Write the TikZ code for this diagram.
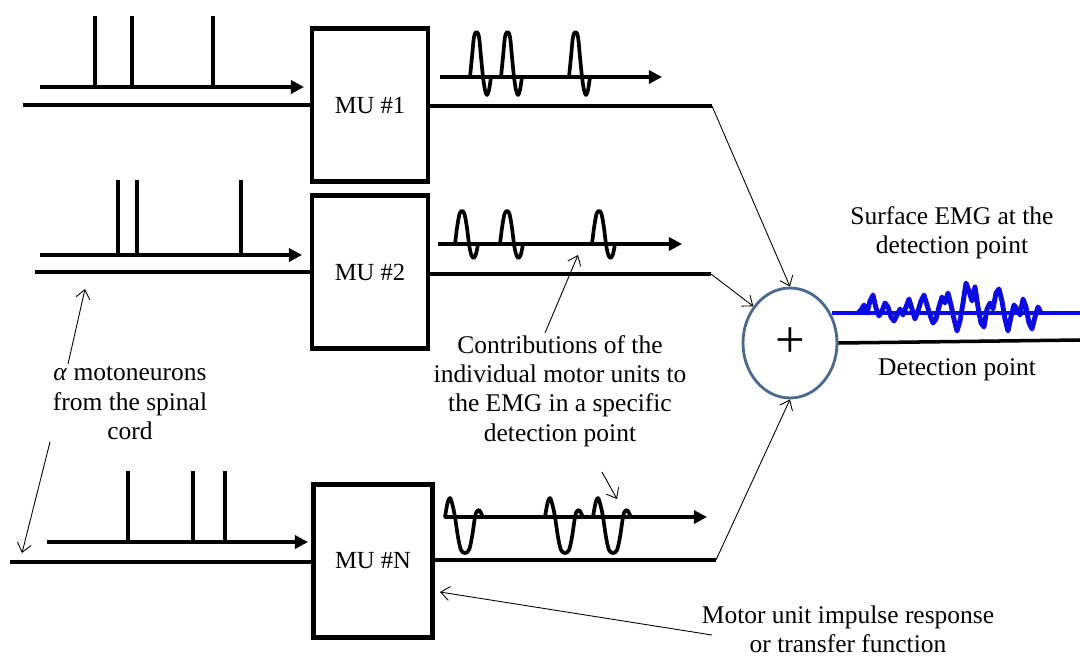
\documentclass[tikz,border=0pt]{standalone}
\usepackage{fontspec}
\setmainfont{Liberation Serif}
\usetikzlibrary{arrows.meta,shapes.geometric}
\definecolor{ringblue}{HTML}{4A6A8C}
\definecolor{emgblue}{RGB}{10,10,225}
\begin{document}
\begin{tikzpicture}[x=0.02cm,y=-0.02cm,
  thickline/.style={line width=2.3pt},
  spike/.style={line width=1.8pt},
  axisarrow/.style={line width=1.8pt,-{Triangle[length=7.5pt,width=7.5pt]}},
  wave/.style={line width=2.1pt,line join=round,line cap=round},
  thinarrow/.style={line width=0.5pt,-{Straight Barb[length=5pt,width=8pt]}},
  mubox/.style={draw,line width=2.3pt,minimum width=2.32cm,minimum height=3.06cm,inner sep=0pt,
     font=\fontsize{14}{16}\selectfont},
  lbl/.style={align=center,font=\fontsize{14.5}{16.6}\selectfont,inner sep=0pt}
]
\useasboundingbox (0,0) rectangle (1080,656);

% boxes
\node[mubox] (mu1) at (370,105) {MU \#1};
\node[mubox] (mu2) at (370,272) {MU \#2};
\node[mubox,minimum width=2.38cm] (muN) at (373,561) {MU \#N};

% summing junction
\node[draw=ringblue,line width=1.6pt,ellipse,minimum width=1.88cm,minimum height=2.2cm,inner sep=0pt,
      font=\fontsize{30}{30}\selectfont] (sum) at (790,343) {+};

% input lines
\coordinate (in1) at (23,105);
\coordinate (in2) at (35,272);
\coordinate (inN) at (10,562);
\draw[thickline] (in1) -- (mu1.west);
\draw[thickline] (in2) -- (mu2.west);
\draw[thickline] (inN) -- (muN.west |- inN);

% output lines
\coordinate (out1) at (712,106);
\coordinate (out2) at (711,274);
\coordinate (outN) at (716,560);
\draw[thickline] (mu1.east |- out1) -- (out1);
\draw[thickline] (mu2.east |- out2) -- (out2);
\draw[thickline] (muN.east |- outN) -- (outN);
\draw[thinarrow] (out1) -- (sum.north);
\draw[thinarrow] (out2) -- (sum.135);
\draw[thinarrow] (outN) -- (sum.south);

% spike trains
\coordinate (s1a) at (40,87);  \coordinate (s1b) at (304,87);
\coordinate (s2a) at (40,255); \coordinate (s2b) at (302,255);
\coordinate (sNa) at (47,542); \coordinate (sNb) at (308,542);
\draw[axisarrow] (s1a) -- (s1b);
\draw[axisarrow] (s2a) -- (s2b);
\draw[axisarrow] (sNa) -- (sNb);
\foreach \x in {95,132,213} \draw[spike] (\x,87) -- (\x,16);
\foreach \x in {118,137,241} \draw[spike] (\x,255) -- (\x,180);
\foreach \x in {128,193,225} \draw[spike] (\x,542) -- (\x,471);

% MU output waveforms
\coordinate (w1a) at (440,77);  \coordinate (w1b) at (662,77);
\coordinate (w2a) at (438,244); \coordinate (w2b) at (682,244);
\coordinate (wNa) at (445,517); \coordinate (wNb) at (707,517);
\draw[axisarrow] (w1a) -- (w1b);
\draw[axisarrow] (w2a) -- (w2b);
\draw[axisarrow] (wNa) -- (wNb);
\foreach \x in {470,501,569}
  \draw[wave] plot[smooth,tension=0.55] coordinates {(\x,77) (\x+2,57) (\x+4,37) (\x+6.5,32) (\x+9,37) (\x+11,57) (\x+13,77) (\x+15,90) (\x+17,95) (\x+19,90) (\x+21,77)};
\foreach \x in {455,500,592}
  \draw[wave] plot[smooth,tension=0.55] coordinates {(\x,244) (\x+2,228) (\x+4.5,214) (\x+7,211) (\x+9.5,214) (\x+12,228) (\x+14,244) (\x+16,254) (\x+18.5,258) (\x+21,254) (\x+23,244)};
\foreach \x in {445,545,593}
  \draw[wave] plot[smooth,tension=0.55] coordinates {(\x,517) (\x+2.5,503) (\x+5,498) (\x+7.5,505) (\x+10,517) (\x+13,537) (\x+16,550) (\x+20,553) (\x+24,550) (\x+27,537) (\x+30,517) (\x+32,511) (\x+34,510) (\x+36,513) (\x+38,517)};

% surface EMG
\coordinate (emga) at (832,313);
\coordinate (emgb) at (1080,313);
\draw[emgblue,line width=2.2pt] (emga) -- (emgb);
\draw[emgblue,line width=2.8pt,line join=round] plot coordinates {
 (858,313) (861,310) (864,305) (867,313) (870,301) (873,295) (876,308) (879,316) (882,311) (885,303)
 (888,307) (891,317) (894,321) (897,315) (900,309) (903,315) (906,307) (909,299) (912,309) (915,319)
 (918,311) (921,301) (924,295) (927,305) (930,315) (933,323) (936,319) (939,307) (942,297) (945,303)
 (948,293) (951,305) (954,319) (957,331) (960,321) (963,303) (966,283) (969,291) (972,301) (975,287)
 (978,307) (981,323) (984,327) (987,309) (990,303) (993,309) (996,293) (999,289) (1002,301) (1005,319)
 (1008,331) (1011,317) (1014,305) (1017,309) (1020,315) (1023,299) (1026,307) (1029,323) (1032,329)
 (1035,317) (1038,307) (1041,313)};
\coordinate (det) at (1080,340);
\draw[thickline,line width=2pt] (sum.east) -- (det);

% labels
\node[lbl] (lsurf) at (952,233) {Surface EMG at the\\detection point};
\node[lbl] (ldet) at (957,370) {Detection point};
\node[lbl] (lcontr) at (560,391) {Contributions of the\\individual motor units to\\the EMG in a specific\\detection point};
\node[lbl] (lalpha) at (130,403) {\textit{α} motoneurons\\from the spinal\\cord};
\node[lbl] (limp) at (848,629) {Motor unit impulse response\\or transfer function};

% annotation arrows
\coordinate (a1s) at (68,364);  \coordinate (a1t) at (85,289);
\coordinate (a2s) at (50,442);  \coordinate (a2t) at (22,553);
\coordinate (c1s) at (545,333); \coordinate (c1t) at (578,255);
\coordinate (c2s) at (602,472); \coordinate (c2t) at (617,499);
\coordinate (m1s) at (712,635); \coordinate (m1t) at (440,592);
\draw[thinarrow] (a1s) -- (a1t);
\draw[thinarrow] (a2s) -- (a2t);
\draw[thinarrow] (c1s) -- (c1t);
\draw[thinarrow] (c2s) -- (c2t);
\draw[thinarrow] (m1s) -- (m1t);
\end{tikzpicture}
\end{document}
